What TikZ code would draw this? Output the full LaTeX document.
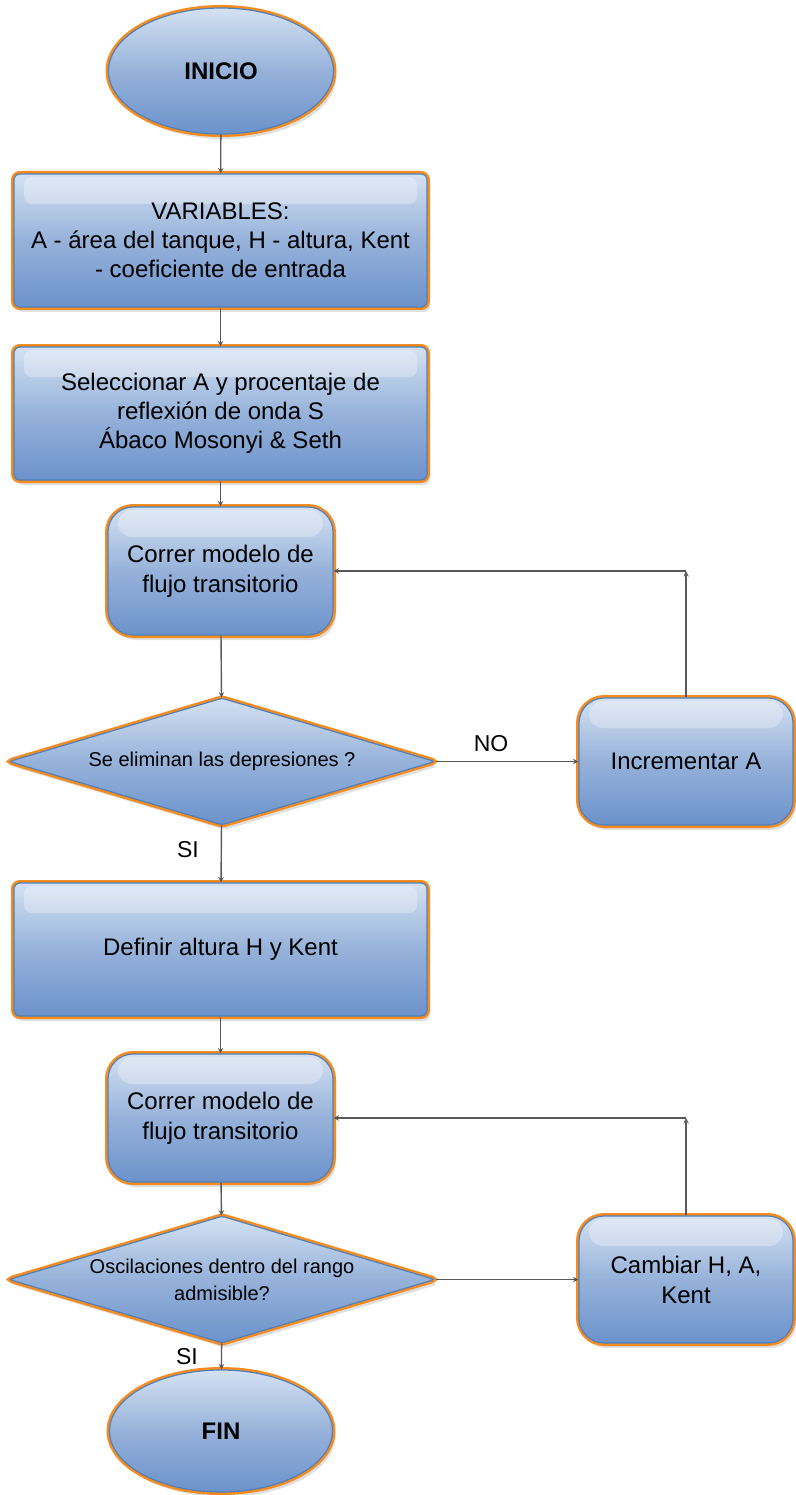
\documentclass[tikz,border=0pt]{standalone}
\usepackage{fontspec}
\setmainfont{Liberation Sans}
\usetikzlibrary{shapes.geometric,shadows}

\definecolor{borde}{RGB}{247,140,30}
\definecolor{azulborde}{RGB}{79,129,189}
\definecolor{azulclaro}{RGB}{212,225,242}
\definecolor{azulmedio}{RGB}{150,178,218}
\definecolor{azuloscuro}{RGB}{108,146,203}
\definecolor{flecha}{RGB}{89,89,89}

\tikzset{
  forma/.style={draw=azulborde, line width=1.2pt,
    top color=azulclaro, bottom color=azuloscuro, middle color=azulmedio,
    drop shadow={shadow xshift=3pt, shadow yshift=-5pt, opacity=0.25},
    preaction={draw=borde, line width=6pt},
    inner sep=0pt, align=center},
  brillo/.style={path picture={
    \fill[white, opacity=0.3, rounded corners=#1]
      ([xshift=10pt,yshift=-3pt]path picture bounding box.north west) rectangle
      ([xshift=-10pt,yshift=-30pt]path picture bounding box.north east);}},
  bloque/.style={forma, brillo=8pt, rounded corners=6pt, minimum width=413pt,
    minimum height=133pt, font=\fontsize{24}{29}\selectfont},
  proceso/.style={forma, brillo=14pt, rounded corners=25pt, minimum width=225pt,
    minimum height=128pt, font=\fontsize{24}{30}\selectfont},
  decision/.style={forma, diamond, aspect=3.35, rounded corners=3pt,
    minimum width=426pt, minimum height=127pt, font=\fontsize{20}{27}\selectfont},
  terminal/.style={forma, ellipse, minimum width=225pt, minimum height=126pt,
    font=\bfseries\fontsize{24}{29}\selectfont},
  linea/.style={->, draw=flecha, line width=1.4pt},
  etiqueta/.style={font=\fontsize{23}{27}\selectfont}
}

\begin{document}
\begin{tikzpicture}[>=stealth, x=1pt, y=-1pt]
  \useasboundingbox (0,0) rectangle (795,1495);
  % nodos
  \node[terminal] (inicio) at (221,71) {INICIO};
  \node[bloque] (vars) at (220.5,240.5) {VARIABLES:\\A - área del tanque, H - altura, Kent\\- coeficiente de entrada};
  \node[bloque] (selec) at (220.5,413.5) {Seleccionar A y procentaje de\\reflexión de onda S\\Ábaco Mosonyi \& Seth};
  \node[proceso] (correr1) at (220.5,571) {Correr modelo de\\flujo transitorio};
  \node[decision] (dec1) at (222,761.5) {Se eliminan las depresiones ?};
  \node[proceso, minimum width=214pt, minimum height=127pt] (incA) at (686,761.5) {Incrementar A};
  \node[bloque] (defin) at (220.5,949.5) {Definir altura H y Kent};
  \node[proceso] (correr2) at (220.5,1118) {Correr modelo de\\flujo transitorio};
  \node[decision] (dec2) at (222,1279.5) {Oscilaciones dentro del rango\\admisible?};
  \node[proceso, minimum width=214pt, minimum height=127pt] (cambiar) at (686,1279.5) {Cambiar H, A,\\Kent};
  \node[terminal, minimum width=223pt, minimum height=122pt] (fin) at (221,1431) {FIN};
  \coordinate (c1) at (686,571);
  \coordinate (c2) at (686,1118);
  % etiquetas
  \node[etiqueta] (no) at (491,744) {NO};
  \node[etiqueta] (si1) at (188,850) {SI};
  \node[etiqueta] (si2) at (187,1357) {SI};
  % conectores
  \draw[linea] (inicio) -- (vars);
  \draw[linea] (vars) -- (selec);
  \draw[linea] (selec) -- (correr1);
  \draw[linea] (correr1) -- (dec1);
  \draw[linea] (dec1) -- (incA);
  \draw[linea] (incA) -- (c1);
  \draw[linea] (c1) -- (correr1);
  \draw[linea] (dec1) -- (defin);
  \draw[linea] (defin) -- (correr2);
  \draw[linea] (correr2) -- (dec2);
  \draw[linea] (dec2) -- (cambiar);
  \draw[linea] (cambiar) -- (c2);
  \draw[linea] (c2) -- (correr2);
  \draw[linea] (dec2) -- (fin);
\end{tikzpicture}
\end{document}
